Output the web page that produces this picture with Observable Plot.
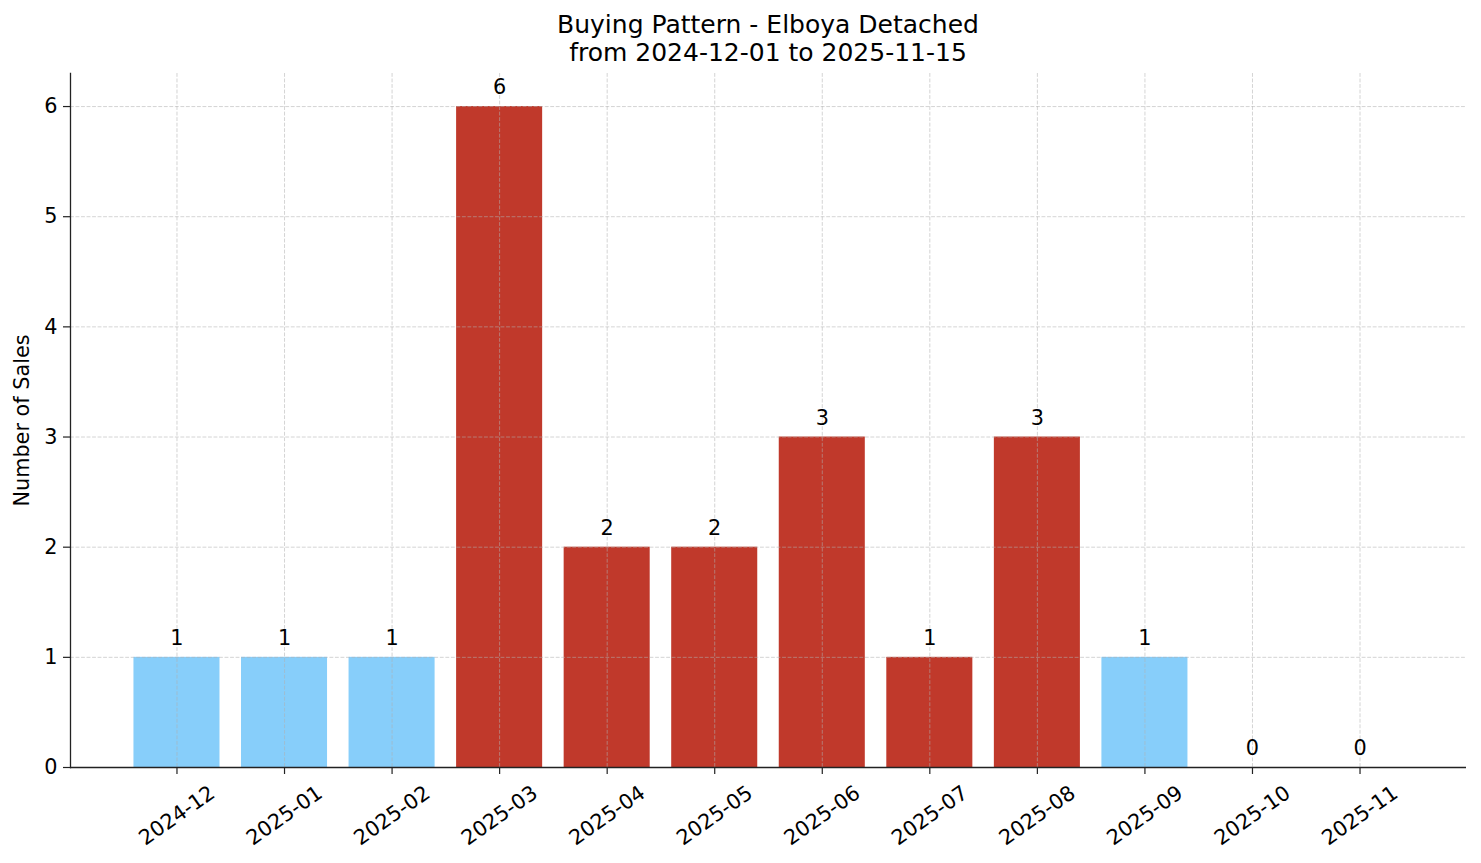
<!DOCTYPE html>
<html>
<head>
<meta charset="utf-8">
<script src="https://cdn.jsdelivr.net/npm/d3@7"></script>
<script src="https://cdn.jsdelivr.net/npm/@observablehq/plot@0.6"></script>
<style>
  html, body { margin: 0; padding: 0; background: #fff; }
  #title {
    box-sizing: border-box;
    height: 67px;
    padding: 11px 15px 0 70px;
    font-family: "DejaVu Sans", sans-serif;
    font-size: 25px;
    line-height: 28px;
    text-align: center;
    color: #000;
  }
  #chart svg { display: block; }
</style>
</head>
<body>
<div id="title">Buying Pattern - Elboya Detached<br>from 2024-12-01 to 2025-11-15</div>
<div id="chart"></div>
<script>
const months = ["2024-12","2025-01","2025-02","2025-03","2025-04","2025-05","2025-06","2025-07","2025-08","2025-09","2025-10","2025-11"];
const sales = [1, 1, 1, 6, 2, 2, 3, 1, 3, 1, 0, 0];
const group = ["low","low","low","high","high","high","high","high","high","low","low","low"];
const yTicks = [0, 1, 2, 3, 4, 5, 6];

const data = months.map((m, i) => ({month: m, sales: sales[i], group: group[i]}));

const font = "DejaVu Sans, sans-serif";
const fs = 20.8;

const chart = Plot.plot({
  width: 1481,
  height: 796,
  marginTop: 6,
  marginBottom: 96,
  marginLeft: 70,
  marginRight: 15,
  style: {fontFamily: font, fontSize: fs + "px", color: "#000", background: "#fff"},
  x: {type: "band", domain: months, paddingInner: 0.2, paddingOuter: 0.59, align: 0.5, round: false, label: null},
  y: {domain: [0, 6.3], label: null},
  color: {domain: ["low", "high"], range: ["#87CEFA", "#C0392B"]},
  marks: [
    Plot.barY(data, {x: "month", y: "sales", fill: "group"}),
    Plot.gridY(yTicks, {stroke: "#b0b0b0", strokeOpacity: 0.55, strokeWidth: 1, strokeDasharray: "3.85,1.67"}),
    Plot.gridX(months, {stroke: "#b0b0b0", strokeOpacity: 0.55, strokeWidth: 1, strokeDasharray: "3.85,1.67"}),
    Plot.text(data, {x: "month", y: "sales", text: d => String(d.sales), dy: -19, lineAnchor: "middle", fontSize: fs, fill: "#000"}),
    Plot.axisY(yTicks, {tickSize: 7, tickPadding: 6, strokeWidth: 1.2, fontSize: fs, tickFormat: d3.format("d"), label: null, stroke: "#222"}),
    Plot.axisX({tickSize: 7, strokeWidth: 1.2, tickFormat: () => "", label: null, stroke: "#222"}),
    Plot.text(months, {x: d => d, frameAnchor: "bottom", dy: 48, rotate: -35, textAnchor: "middle", lineAnchor: "middle", fontSize: fs, fill: "#000"}),
    Plot.text(["Number of Sales"], {frameAnchor: "left", dx: -48, rotate: -90, textAnchor: "middle", lineAnchor: "middle", fontSize: fs, fill: "#000"}),
    Plot.ruleY([0], {stroke: "#222", strokeWidth: 1.3}),
    Plot.frame({anchor: "left", stroke: "#222", strokeWidth: 1.3})
  ]
});
document.getElementById("chart").appendChild(chart);
</script>
</body>
</html>
